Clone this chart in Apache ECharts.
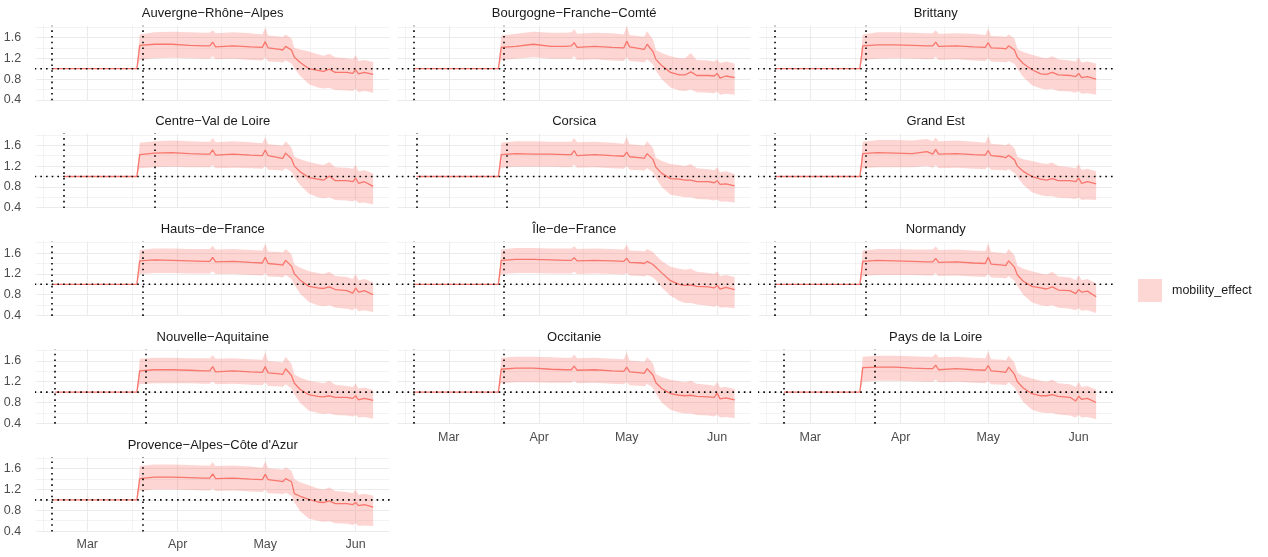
<!DOCTYPE html>
<html>
<head>
<meta charset="utf-8">
<title>mobility_effect by region</title>
<script src="https://cdn.jsdelivr.net/npm/echarts@6.0.0/dist/echarts.min.js"></script>
<style>
  html, body { margin: 0; padding: 0; background: #fff; }
  #main { width: 1268px; height: 557px; }
</style>
</head>
<body>
<div id="main"></div>
<script>
// dates shared by every region, from the last flat day to the end
const dates = ['2020-03-18', '2020-03-19', '2020-03-24', '2020-03-30', '2020-04-05', '2020-04-10',
  '2020-04-12', '2020-04-13', '2020-04-14', '2020-04-20', '2020-04-26', '2020-04-30', '2020-05-01',
  '2020-05-02', '2020-05-06', '2020-05-07', '2020-05-08', '2020-05-10', '2020-05-11', '2020-05-13',
  '2020-05-16', '2020-05-19', '2020-05-21', '2020-05-23', '2020-05-25', '2020-05-29', '2020-05-31',
  '2020-06-01', '2020-06-02', '2020-06-04', '2020-06-07'];

const regionNames = ['Auvergne−Rhône−Alpes', 'Bourgogne−Franche−Comté', 'Brittany',
  'Centre−Val de Loire', 'Corsica', 'Grand Est',
  'Hauts−de−France', 'Île−de−France', 'Normandy',
  'Nouvelle−Aquitaine', 'Occitanie', 'Pays de la Loire',
  'Provence−Alpes−Côte d\'Azur'];
// first day of data (first dotted line) and second dotted line
const startDates = ['2020-02-18', '2020-02-18', '2020-02-18', '2020-02-22', '2020-02-19', '2020-02-18',
  '2020-02-18', '2020-02-18', '2020-02-18', '2020-02-19', '2020-02-18', '2020-02-21', '2020-02-18'];
const markDates = ['2020-03-20', '2020-03-20', '2020-03-20', '2020-03-24', '2020-03-21', '2020-03-20',
  '2020-03-20', '2020-03-20', '2020-03-20', '2020-03-21', '2020-03-20', '2020-03-23', '2020-03-20'];

const araMean = [1.00,1.45,1.47,1.47,1.45,1.44,1.44,1.51,1.42,1.44,1.42,1.41,1.52,1.40,1.37,1.36,1.43,1.36,1.22,1.12,1.00,0.97,0.95,0.99,0.93,0.93,0.91,0.98,0.90,0.93,0.89];
const araHigh = [1.00,1.66,1.70,1.71,1.70,1.69,1.69,1.74,1.68,1.70,1.68,1.66,1.79,1.64,1.62,1.61,1.66,1.58,1.40,1.37,1.33,1.28,1.25,1.29,1.22,1.20,1.18,1.26,1.15,1.17,1.13];
const araLow  = [1.00,1.17,1.20,1.21,1.20,1.19,1.19,1.24,1.18,1.19,1.17,1.16,1.22,1.14,1.13,1.12,1.16,1.10,1.01,0.86,0.70,0.64,0.62,0.63,0.59,0.58,0.57,0.61,0.55,0.57,0.54];

const bfcMean = [1.00,1.41,1.43,1.47,1.43,1.43,1.44,1.50,1.41,1.43,1.41,1.40,1.53,1.42,1.38,1.37,1.47,1.33,1.18,1.06,0.93,0.88,0.88,0.94,0.87,0.87,0.86,0.91,0.82,0.86,0.83];
const bfcHigh = [1.00,1.64,1.67,1.71,1.69,1.69,1.70,1.76,1.67,1.69,1.68,1.66,1.82,1.65,1.62,1.62,1.72,1.56,1.36,1.30,1.24,1.20,1.20,1.30,1.17,1.16,1.14,1.18,1.11,1.14,1.10];
const bfcLow  = [1.00,1.17,1.19,1.22,1.19,1.19,1.19,1.24,1.17,1.18,1.16,1.15,1.22,1.15,1.13,1.12,1.18,1.08,0.96,0.80,0.64,0.58,0.57,0.60,0.55,0.54,0.53,0.56,0.50,0.52,0.50];

const briMean = [1.00,1.44,1.46,1.46,1.45,1.44,1.44,1.51,1.43,1.44,1.42,1.41,1.50,1.40,1.39,1.38,1.44,1.36,1.22,1.10,0.98,0.90,0.89,0.93,0.88,0.87,0.85,0.91,0.83,0.85,0.80];
const briHigh = [1.00,1.66,1.70,1.70,1.69,1.68,1.68,1.74,1.67,1.68,1.67,1.65,1.77,1.63,1.62,1.61,1.66,1.58,1.38,1.32,1.27,1.22,1.20,1.24,1.18,1.16,1.14,1.22,1.12,1.14,1.10];
const briLow  = [1.00,1.17,1.19,1.20,1.19,1.18,1.18,1.23,1.17,1.18,1.16,1.15,1.20,1.14,1.13,1.12,1.15,1.09,1.00,0.84,0.68,0.62,0.60,0.61,0.57,0.56,0.54,0.57,0.52,0.53,0.50];

const cvlMean = [1.00,1.42,1.45,1.46,1.44,1.43,1.43,1.51,1.41,1.43,1.41,1.40,1.51,1.40,1.36,1.35,1.45,1.34,1.20,1.09,0.98,0.95,0.93,1.01,0.92,0.92,0.90,0.97,0.87,0.90,0.81];
const cvlHigh = [1.00,1.65,1.68,1.69,1.68,1.67,1.67,1.74,1.66,1.68,1.66,1.64,1.75,1.62,1.60,1.59,1.68,1.56,1.38,1.33,1.28,1.24,1.22,1.28,1.18,1.17,1.15,1.22,1.10,1.12,1.06];
const cvlLow  = [1.00,1.16,1.18,1.19,1.18,1.18,1.18,1.22,1.16,1.17,1.16,1.15,1.20,1.13,1.12,1.11,1.16,1.09,0.99,0.83,0.67,0.60,0.58,0.60,0.55,0.54,0.52,0.55,0.49,0.50,0.46];

const corMean = [1.00,1.42,1.44,1.43,1.43,1.42,1.42,1.50,1.40,1.42,1.40,1.39,1.47,1.38,1.36,1.35,1.44,1.33,1.18,1.06,0.96,0.95,0.93,0.93,0.90,0.90,0.88,0.92,0.85,0.86,0.82];
const corHigh = [1.00,1.65,1.68,1.68,1.67,1.67,1.67,1.74,1.66,1.67,1.65,1.63,1.76,1.62,1.60,1.59,1.68,1.55,1.36,1.30,1.24,1.22,1.20,1.24,1.16,1.14,1.12,1.18,1.08,1.10,1.05];
const corLow  = [1.00,1.17,1.19,1.19,1.19,1.18,1.18,1.23,1.17,1.18,1.16,1.15,1.20,1.13,1.12,1.11,1.16,1.08,0.97,0.80,0.65,0.62,0.60,0.60,0.57,0.56,0.54,0.56,0.52,0.52,0.50];

const gesMean = [1.00,1.44,1.46,1.45,1.44,1.48,1.43,1.52,1.43,1.44,1.42,1.41,1.50,1.40,1.38,1.36,1.41,1.32,1.20,1.10,1.00,0.95,0.93,0.96,0.92,0.92,0.90,0.97,0.87,0.90,0.86];
const gesHigh = [1.00,1.67,1.70,1.70,1.69,1.72,1.68,1.75,1.68,1.69,1.67,1.65,1.78,1.63,1.61,1.60,1.64,1.55,1.38,1.33,1.30,1.26,1.24,1.27,1.20,1.18,1.16,1.24,1.13,1.15,1.10];
const gesLow  = [1.00,1.16,1.18,1.18,1.18,1.20,1.17,1.22,1.16,1.17,1.15,1.14,1.19,1.13,1.12,1.11,1.14,1.07,0.99,0.84,0.70,0.64,0.62,0.62,0.59,0.58,0.57,0.60,0.55,0.56,0.55];

const hdfMean = [1.00,1.45,1.47,1.46,1.45,1.44,1.44,1.52,1.43,1.44,1.42,1.41,1.52,1.40,1.38,1.37,1.46,1.35,1.20,1.08,0.96,0.93,0.92,0.95,0.90,0.88,0.83,0.93,0.85,0.88,0.80];
const hdfHigh = [1.00,1.66,1.69,1.69,1.68,1.68,1.68,1.74,1.67,1.68,1.66,1.65,1.78,1.63,1.62,1.61,1.68,1.58,1.38,1.32,1.25,1.22,1.20,1.24,1.16,1.14,1.10,1.20,1.08,1.10,1.04];
const hdfLow  = [1.00,1.20,1.22,1.22,1.21,1.21,1.21,1.25,1.20,1.20,1.18,1.17,1.22,1.15,1.14,1.13,1.18,1.10,0.99,0.82,0.66,0.60,0.58,0.60,0.55,0.53,0.50,0.55,0.48,0.50,0.47];

const idfMean = [1.00,1.46,1.48,1.48,1.47,1.46,1.46,1.51,1.45,1.46,1.45,1.44,1.50,1.42,1.41,1.40,1.44,1.38,1.33,1.22,1.07,1.00,0.98,0.99,0.96,0.95,0.93,0.98,0.91,0.94,0.90];
const idfHigh = [1.00,1.67,1.70,1.70,1.69,1.69,1.69,1.73,1.68,1.69,1.68,1.67,1.76,1.65,1.64,1.63,1.68,1.62,1.56,1.45,1.34,1.30,1.28,1.30,1.24,1.22,1.20,1.25,1.16,1.18,1.14];
const idfLow  = [1.00,1.20,1.22,1.22,1.21,1.21,1.21,1.24,1.20,1.21,1.20,1.19,1.22,1.17,1.16,1.15,1.18,1.13,1.08,0.94,0.78,0.68,0.64,0.64,0.61,0.59,0.57,0.60,0.55,0.56,0.54];

const norMean = [1.00,1.44,1.46,1.45,1.44,1.43,1.43,1.50,1.42,1.43,1.41,1.40,1.52,1.39,1.37,1.36,1.45,1.33,1.18,1.06,0.96,0.93,0.91,0.95,0.89,0.88,0.82,0.90,0.85,0.87,0.76];
const norHigh = [1.00,1.65,1.68,1.68,1.67,1.67,1.67,1.73,1.66,1.67,1.65,1.64,1.78,1.62,1.60,1.59,1.68,1.56,1.36,1.30,1.25,1.21,1.19,1.24,1.15,1.13,1.08,1.18,1.08,1.10,1.02];
const norLow  = [1.00,1.16,1.18,1.18,1.18,1.17,1.17,1.22,1.16,1.17,1.15,1.14,1.20,1.13,1.12,1.11,1.16,1.07,0.97,0.80,0.65,0.60,0.58,0.60,0.55,0.53,0.50,0.54,0.49,0.50,0.45];

const naqMean = [1.00,1.41,1.43,1.43,1.42,1.41,1.41,1.49,1.39,1.41,1.39,1.38,1.49,1.37,1.35,1.34,1.45,1.32,1.17,1.05,0.95,0.92,0.91,0.93,0.90,0.90,0.88,0.93,0.85,0.88,0.84];
const naqHigh = [1.00,1.64,1.66,1.66,1.65,1.65,1.65,1.71,1.64,1.65,1.63,1.62,1.76,1.60,1.58,1.57,1.68,1.54,1.34,1.28,1.22,1.19,1.17,1.22,1.14,1.12,1.10,1.16,1.07,1.09,1.04];
const naqLow  = [1.00,1.15,1.17,1.17,1.17,1.16,1.16,1.21,1.15,1.16,1.14,1.13,1.19,1.12,1.11,1.10,1.15,1.07,0.96,0.79,0.64,0.60,0.58,0.59,0.56,0.55,0.53,0.56,0.51,0.52,0.49];

const occMean = [1.00,1.44,1.46,1.46,1.44,1.43,1.43,1.50,1.42,1.43,1.41,1.40,1.48,1.39,1.37,1.36,1.45,1.33,1.18,1.07,0.97,0.94,0.93,0.94,0.92,0.91,0.90,0.98,0.87,0.89,0.85];
const occHigh = [1.00,1.66,1.68,1.68,1.67,1.66,1.66,1.72,1.65,1.66,1.64,1.63,1.76,1.61,1.59,1.58,1.67,1.55,1.35,1.29,1.24,1.21,1.19,1.22,1.16,1.14,1.12,1.20,1.09,1.10,1.06];
const occLow  = [1.00,1.17,1.19,1.19,1.18,1.18,1.18,1.22,1.17,1.18,1.16,1.15,1.19,1.13,1.12,1.11,1.16,1.08,0.97,0.80,0.66,0.61,0.59,0.59,0.56,0.55,0.53,0.57,0.51,0.52,0.50];

const pdlMean = [1.00,1.47,1.48,1.48,1.46,1.45,1.45,1.52,1.43,1.45,1.43,1.42,1.51,1.41,1.39,1.38,1.48,1.34,1.20,1.08,0.97,0.93,0.93,0.95,0.92,0.90,0.83,0.92,0.86,0.88,0.80];
const pdlHigh = [1.00,1.68,1.70,1.70,1.69,1.68,1.68,1.74,1.67,1.68,1.66,1.65,1.78,1.63,1.62,1.61,1.70,1.57,1.37,1.31,1.26,1.22,1.20,1.24,1.17,1.15,1.10,1.20,1.10,1.12,1.05];
const pdlLow  = [1.00,1.20,1.22,1.22,1.21,1.20,1.20,1.24,1.19,1.20,1.18,1.17,1.21,1.15,1.14,1.13,1.19,1.09,0.99,0.81,0.66,0.61,0.60,0.60,0.57,0.55,0.51,0.56,0.51,0.52,0.48];

const pacMean = [1.00,1.41,1.44,1.44,1.43,1.42,1.42,1.50,1.41,1.42,1.40,1.39,1.49,1.39,1.36,1.35,1.41,1.35,1.12,1.07,1.01,0.96,0.95,0.98,0.93,0.93,0.91,0.95,0.89,0.91,0.86];
const pacHigh = [1.00,1.65,1.68,1.68,1.67,1.66,1.66,1.73,1.65,1.66,1.64,1.62,1.74,1.61,1.59,1.58,1.63,1.56,1.40,1.34,1.28,1.22,1.20,1.24,1.17,1.15,1.13,1.20,1.10,1.12,1.08];
const pacLow  = [1.00,1.17,1.20,1.20,1.19,1.18,1.18,1.22,1.17,1.18,1.16,1.15,1.20,1.13,1.12,1.11,1.14,1.08,0.95,0.78,0.64,0.60,0.58,0.59,0.55,0.54,0.52,0.55,0.50,0.51,0.50];

const meanList = [araMean, bfcMean, briMean, cvlMean, corMean, gesMean, hdfMean, idfMean, norMean, naqMean, occMean, pdlMean, pacMean];
const highList = [araHigh, bfcHigh, briHigh, cvlHigh, corHigh, gesHigh, hdfHigh, idfHigh, norHigh, naqHigh, occHigh, pdlHigh, pacHigh];
const lowList  = [araLow, bfcLow, briLow, cvlLow, corLow, gesLow, hdfLow, idfLow, norLow, naqLow, occLow, pdlLow, pacLow];

// axis breaks
const monthBreaks = ['2020-03-01', '2020-04-01', '2020-05-01', '2020-06-01'];
const monthMinor = ['2020-02-15', '2020-03-16 12:00', '2020-04-16', '2020-05-16 12:00'];
const yBreaks = [0.4, 0.8, 1.2, 1.6];
const yMinor = [0.6, 1.0, 1.4, 1.8];
const monthNames = ['Jan', 'Feb', 'Mar', 'Apr', 'May', 'Jun', 'Jul'];

const ts = s => echarts.time.parse(s).getTime();

// layout of the facets
const FONT = "'Liberation Sans', Arial, Helvetica, sans-serif";
const PANEL_LEFT = 36.2, PANEL_TOP = 25.8, COL_STEP = 361.5, ROW_STEP = 107.8;
const PANEL_W = 353, PANEL_H = 74.5;
const X_MIN = ts('2020-02-12 12:00'), X_MAX = ts('2020-06-12 12:00');
const Y_MIN = 0.393, Y_MAX = 1.825;
const RED = '#F8766D';
const GRID = '#EBEBEB';
const dotted = { color: '#000', width: 1.6, type: [1.6, 4.1], cap: 'butt' };

const grids = [], xAxes = [], yAxes = [], series = [], titles = [];

regionNames.forEach((name, i) => {
  const row = Math.floor(i / 3), col = i % 3;
  const left = PANEL_LEFT + col * COL_STEP;
  const top = PANEL_TOP + row * ROW_STEP;
  const showX = i >= regionNames.length - 3;
  const showY = col === 0;

  grids.push({ left: left, top: top, width: PANEL_W, height: PANEL_H });

  titles.push({
    text: name, left: left + PANEL_W / 2, top: top - 18.5, textAlign: 'center', padding: 0,
    textStyle: { fontSize: 13, fontWeight: 'normal', color: '#1A1A1A', fontFamily: FONT }
  });

  // dates as timestamps on a value axis; major + minor gridlines on two axes
  xAxes.push({
    type: 'value', gridIndex: i, min: X_MIN, max: X_MAX,
    axisLine: { show: false },
    axisTick: { show: false, customValues: monthBreaks.map(ts) },
    axisLabel: {
      show: showX, customValues: monthBreaks.map(ts), margin: 7,
      formatter: v => monthNames[new Date(v).getMonth()],
      color: '#4D4D4D', fontSize: 12.5, fontFamily: FONT
    },
    splitLine: { show: true, lineStyle: { color: GRID, width: 1.1 } }
  });
  xAxes.push({
    type: 'value', gridIndex: i, min: X_MIN, max: X_MAX,
    axisLine: { show: false },
    axisTick: { show: false, customValues: monthMinor.map(ts) },
    axisLabel: { show: false },
    splitLine: { show: true, lineStyle: { color: GRID, width: 0.6 } }
  });
  yAxes.push({
    type: 'value', gridIndex: i, min: Y_MIN, max: Y_MAX,
    axisLine: { show: false },
    axisTick: { show: false, customValues: yBreaks },
    axisLabel: {
      show: showY, customValues: yBreaks, margin: 15,
      formatter: v => v.toFixed(1),
      color: '#4D4D4D', fontSize: 12.5, fontFamily: FONT
    },
    splitLine: { show: true, lineStyle: { color: GRID, width: 1.1 } }
  });
  yAxes.push({
    type: 'value', gridIndex: i, min: Y_MIN, max: Y_MAX,
    axisLine: { show: false },
    axisTick: { show: false, customValues: yMinor },
    axisLabel: { show: false },
    splitLine: { show: true, lineStyle: { color: GRID, width: 0.6 } }
  });

  const xs = [startDates[i]].concat(dates).map(ts);
  const mean = [1].concat(meanList[i]);
  const low = [1].concat(lowList[i]);
  const high = [1].concat(highList[i]);
  const xi = 2 * i, yi = 2 * i;

  // ribbon between lower and upper bound, as one polygon in axis coordinates
  series.push({
    type: 'custom', name: 'mobility_effect', xAxisIndex: xi, yAxisIndex: yi,
    silent: true, z: 2,
    encode: { x: 0, y: [1, 2] },
    data: xs.map((x, k) => [x, low[k], high[k]]),
    renderItem: (params, api) => {
      if (params.dataIndex !== 0) return null;
      const upper = xs.map((x, k) => api.coord([x, high[k]]));
      const lower = xs.map((x, k) => api.coord([x, low[k]])).reverse();
      return {
        type: 'polygon',
        shape: { points: upper.concat(lower) },
        style: { fill: RED, opacity: 0.3 }
      };
    }
  });
  // central estimate
  series.push({
    type: 'line', name: 'mean_' + i, xAxisIndex: xi, yAxisIndex: yi,
    symbol: 'none', silent: true, z: 3,
    lineStyle: { color: RED, width: 1.3 },
    data: xs.map((x, k) => [x, mean[k]])
  });
  // dotted reference lines
  series.push({
    type: 'line', name: 'ref_' + i, xAxisIndex: xi, yAxisIndex: yi,
    symbol: 'none', silent: true, clip: false, z: 5,
    lineStyle: dotted,
    data: [[ts('2020-02-10'), 1], [ts('2020-06-15'), 1]],
    markLine: {
      symbol: ['none', 'none'], silent: true, label: { show: false },
      lineStyle: dotted, emphasis: { disabled: true },
      data: [{ xAxis: ts(startDates[i]) }, { xAxis: ts(markDates[i]) }]
    }
  });
});

const chart = echarts.init(document.getElementById('main'));
chart.setOption({
  animation: false,
  backgroundColor: '#fff',
  title: titles,
  grid: grids,
  xAxis: xAxes,
  yAxis: yAxes,
  legend: {
    data: [{ name: 'mobility_effect', icon: 'rect' }],
    left: 1138, top: 279, padding: 0, itemWidth: 24, itemHeight: 23, selectedMode: false,
    itemStyle: { color: '#FDD7D3', borderWidth: 0 },
    textStyle: { fontSize: 12.5, color: '#1A1A1A', fontFamily: FONT, padding: [0, 0, 0, 5] }
  },
  series: series
});
</script>
</body>
</html>
